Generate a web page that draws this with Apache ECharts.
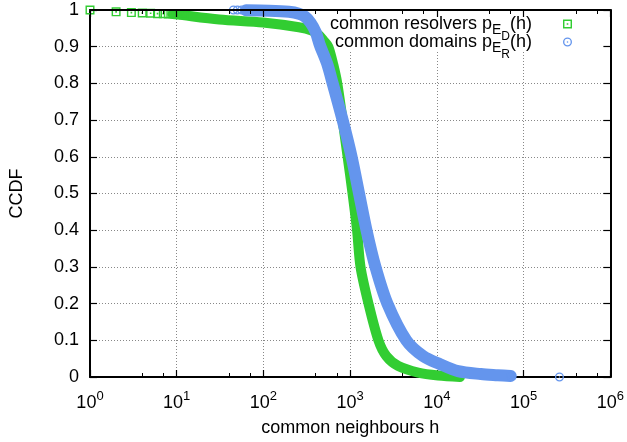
<!DOCTYPE html>
<html><head><meta charset="utf-8">
<script src="https://cdn.jsdelivr.net/npm/echarts@6/dist/echarts.min.js"></script>
<style>html,body{margin:0;padding:0;background:#fff}#c{width:627px;height:442px}</style>
</head><body><div id="c"></div>
<script>
// ---- data ----
const xTickExponents = [0, 1, 2, 3, 4, 5, 6];
const yTickValues = [0, 0.1, 0.2, 0.3, 0.4, 0.5, 0.6, 0.7, 0.8, 0.9, 1];

// common resolvers p_ED(h): sparse squares at small h
const resolversSparseH = [1, 2, 3, 4, 5, 6, 7, 8, 9, 10, 11, 12];
const resolversSparseP = [1.0, 0.995, 0.993, 0.992, 0.991, 0.990, 0.990, 0.989, 0.989, 0.988, 0.987, 0.987];
// common resolvers: dense band
const resolversBandH = [9, 10, 31, 99, 256, 361, 434, 500, 560, 640, 710, 818, 934, 1065, 1200, 1316, 1626, 2117, 2615, 3589, 6086, 10320, 18450];
const resolversBandP = [0.989, 0.988, 0.974, 0.966, 0.953, 0.944, 0.932, 0.915, 0.9, 0.85, 0.8, 0.7, 0.6, 0.5, 0.4, 0.3, 0.2, 0.1, 0.057, 0.03, 0.012, 0.004, 0.0];

// common domains p_ER(h): sparse circles
const domainsSparseH = [45, 50, 56, 63, 70950, 258800];
const domainsSparseP = [1.0, 1.0, 1.0, 0.999, 0.003, 0.0];
// common domains: dense band
const domainsBandH = [63, 116, 197, 256, 300, 350, 400, 446, 540, 628, 818, 1038, 1265, 1542, 1956, 2685, 4436, 6945, 10880, 17510, 32130, 50000, 70950];
const domainsBandP = [0.999, 0.998, 0.995, 0.99, 0.982, 0.965, 0.94, 0.905, 0.855, 0.8, 0.7, 0.6, 0.5, 0.4, 0.3, 0.2, 0.1, 0.057, 0.035, 0.016, 0.008, 0.005, 0.003];

// ---- styling ----
const GREEN = '#32cd32';
const BLUE = '#6495ed';
const FONT = '"Liberation Sans", Arial, Helvetica, sans-serif';
const SQUARE = 'path://M0,0L10,0L10,10L0,10Z M1.6,1.6L1.6,8.4L8.4,8.4L8.4,1.6Z M4.1,4.1L5.9,4.1L5.9,5.9L4.1,5.9Z';
const CIRCLE = 'path://M0,5A5,5 0 1,0 10,5A5,5 0 1,0 0,5Z M1.5,5A3.5,3.5 0 1,1 8.5,5A3.5,3.5 0 1,1 1.5,5Z M4.1,5A0.9,0.9 0 1,0 5.9,5A0.9,0.9 0 1,0 4.1,5Z';

const zip = (a, b) => a.map((v, i) => [v, b[i]]);

const chart = echarts.init(document.getElementById('c'), null, {renderer: 'canvas'});

const legendRich = {
  e: {fontSize: 14, fontFamily: FONT, padding: [12, 0, 0, 0]},
  d: {fontSize: 12, fontFamily: FONT, padding: [26, 0, 0, 0]},
  sp: {width: 26}
};
const legendText = {fontSize: 18, fontFamily: FONT, color: '#000', rich: legendRich};

chart.setOption({
  animation: false,
  textStyle: {fontFamily: FONT},
  grid: {left: 90, right: 14, top: 10, bottom: 61, containLabel: false},
  xAxis: [{
    type: 'log', logBase: 10, min: 1, max: 1e6, position: 'bottom', z: 0,
    name: 'common neighbours h', nameLocation: 'middle', nameGap: 42,
    nameTextStyle: {fontSize: 18, color: '#000', fontFamily: FONT},
    axisLine: {show: true, onZero: false, lineStyle: {color: '#000', width: 2}},
    axisTick: {show: true, inside: true, length: 7, lineStyle: {color: '#000', width: 1.2}},
    minorTick: {show: true, splitNumber: 3, length: 4, lineStyle: {color: '#000', width: 1}},
    splitLine: {show: true, lineStyle: {color: '#888', type: [1, 2], width: 1}},
    axisLabel: {
      margin: 13, color: '#000',
      formatter: v => '{b|10}{s|' + xTickExponents[Math.round(Math.log10(v))] + '}',
      rich: {
        b: {fontSize: 18, fontFamily: FONT, color: '#000'},
        s: {fontSize: 13, fontFamily: FONT, color: '#000', padding: [0, 0, 14, 0]}
      }
    }
  }, {
    type: 'log', logBase: 10, min: 1, max: 1e6, position: 'top', z: 3,
    axisLine: {show: true, onZero: false, lineStyle: {color: '#000', width: 2}},
    axisTick: {show: true, inside: true, length: 7, lineStyle: {color: '#000', width: 1.2}},
    minorTick: {show: true, splitNumber: 3, length: 4, lineStyle: {color: '#000', width: 1}},
    splitLine: {show: false}, axisLabel: {show: false}
  }],
  yAxis: [{
    type: 'value', min: yTickValues[0], max: yTickValues[yTickValues.length - 1], interval: 0.1, position: 'left', z: 0,
    name: 'CCDF', nameLocation: 'middle', nameGap: 64,
    nameTextStyle: {fontSize: 18, color: '#000', fontFamily: FONT},
    axisLine: {show: true, onZero: false, lineStyle: {color: '#000', width: 2}},
    axisTick: {show: true, inside: true, length: 7, lineStyle: {color: '#000', width: 1.2}},
    splitLine: {show: true, lineStyle: {color: '#888', type: [1, 2], width: 1}},
    axisLabel: {margin: 11, fontSize: 18, color: '#000', fontFamily: FONT}
  }, {
    type: 'value', min: 0, max: 1, interval: 0.1, position: 'right', z: 3,
    axisLine: {show: true, onZero: false, lineStyle: {color: '#000', width: 2}},
    axisTick: {show: true, inside: true, length: 7, lineStyle: {color: '#000', width: 1.2}},
    splitLine: {show: false}, axisLabel: {show: false}
  }],
  graphic: [{
    type: 'rect', z: 1, silent: true,
    shape: {x: 298, y: 11, width: 314, height: 40},
    style: {fill: '#fff'}
  }],
  legend: [{
    data: [{name: 'common resolvers', icon: SQUARE}],
    orient: 'vertical', align: 'right', right: 55, top: 15, padding: 0,
    itemWidth: 9, itemHeight: 9, selectedMode: false,
    formatter: () => 'common resolvers p{e|E}{d|D}(h){sp| }',
    textStyle: legendText
  }, {
    data: [{name: 'common domains', icon: CIRCLE}],
    orient: 'vertical', align: 'right', right: 55, top: 33, padding: 0,
    itemWidth: 9, itemHeight: 9, selectedMode: false,
    formatter: () => 'common domains p{e|E}{d|R}(h){sp| }',
    textStyle: legendText
  }],
  series: [{
    name: 'resolvers band', type: 'line', data: zip(resolversBandH, resolversBandP),
    showSymbol: false, clip: false, z: 2, silent: true, smooth: 0.3,
    lineStyle: {color: GREEN, width: 10, cap: 'round', join: 'round'}, itemStyle: {color: GREEN}
  }, {
    name: 'common resolvers', type: 'scatter', data: zip(resolversSparseH, resolversSparseP),
    symbol: SQUARE, symbolSize: 9, clip: false, z: 2, silent: true,
    itemStyle: {color: GREEN, opacity: 1}
  }, {
    name: 'domains band', type: 'line', data: zip(domainsBandH, domainsBandP),
    showSymbol: false, clip: false, z: 2, silent: true, smooth: 0.3,
    lineStyle: {color: BLUE, width: 12, cap: 'round', join: 'round'}, itemStyle: {color: BLUE}
  }, {
    name: 'common domains', type: 'scatter', data: zip(domainsSparseH, domainsSparseP),
    symbol: CIRCLE, symbolSize: 9, clip: false, z: 2, silent: true,
    itemStyle: {color: BLUE, opacity: 1}
  }]
});
</script></body></html>
